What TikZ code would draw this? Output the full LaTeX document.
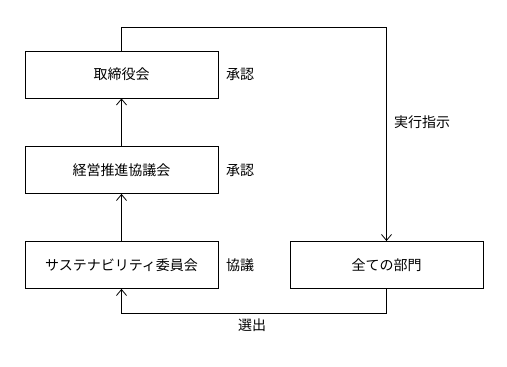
\documentclass[tikz,border=0pt]{standalone}
\usepackage{fontspec}
\setmainfont{Noto Sans CJK JP}
\usetikzlibrary{arrows.meta}

\begin{document}
\begin{tikzpicture}[
      x=1pt, y=1pt,
      every node/.style={font=\fontsize{14}{16}\selectfont, align=center, inner sep=0pt},
      box/.style={rectangle, draw, line width=0.8pt, minimum width=193pt, minimum height=47pt, fill=white},
      arr/.style={-{Straight Barb[length=6pt, width=10pt, line width=0.8pt]}, line width=0.8pt}
    ]
    \useasboundingbox (0,0) rectangle (507,367);

    \node[box] (board) at (121.5, 292.5) {取締役会};
    \node[box] (mgmt)  at (121.5, 197)   {経営推進協議会};
    \node[box] (sust)  at (121.5, 102)   {サステナビリティ委員会};
    \node[box] (dept)  at (386.5, 102)   {全ての部門};

    \node (l1) at (240, 293) {承認};
    \node (l2) at (240, 197) {承認};
    \node (l3) at (240, 102) {協議};
    \node (l4) at (422, 245) {実行指示};
    \node (l5) at (252, 42)  {選出};

    \coordinate (topturn) at (121.5, 340);
    \coordinate (botturn) at (386.5, 54);

    \draw[arr] (mgmt) -- (board);
    \draw[arr] (sust) -- (mgmt);
    \draw[arr] (board.north) -- (topturn) -| (dept.north);
    \draw[arr] (dept.south) -- (botturn) -| (sust.south);
  \end{tikzpicture}
\end{document}
